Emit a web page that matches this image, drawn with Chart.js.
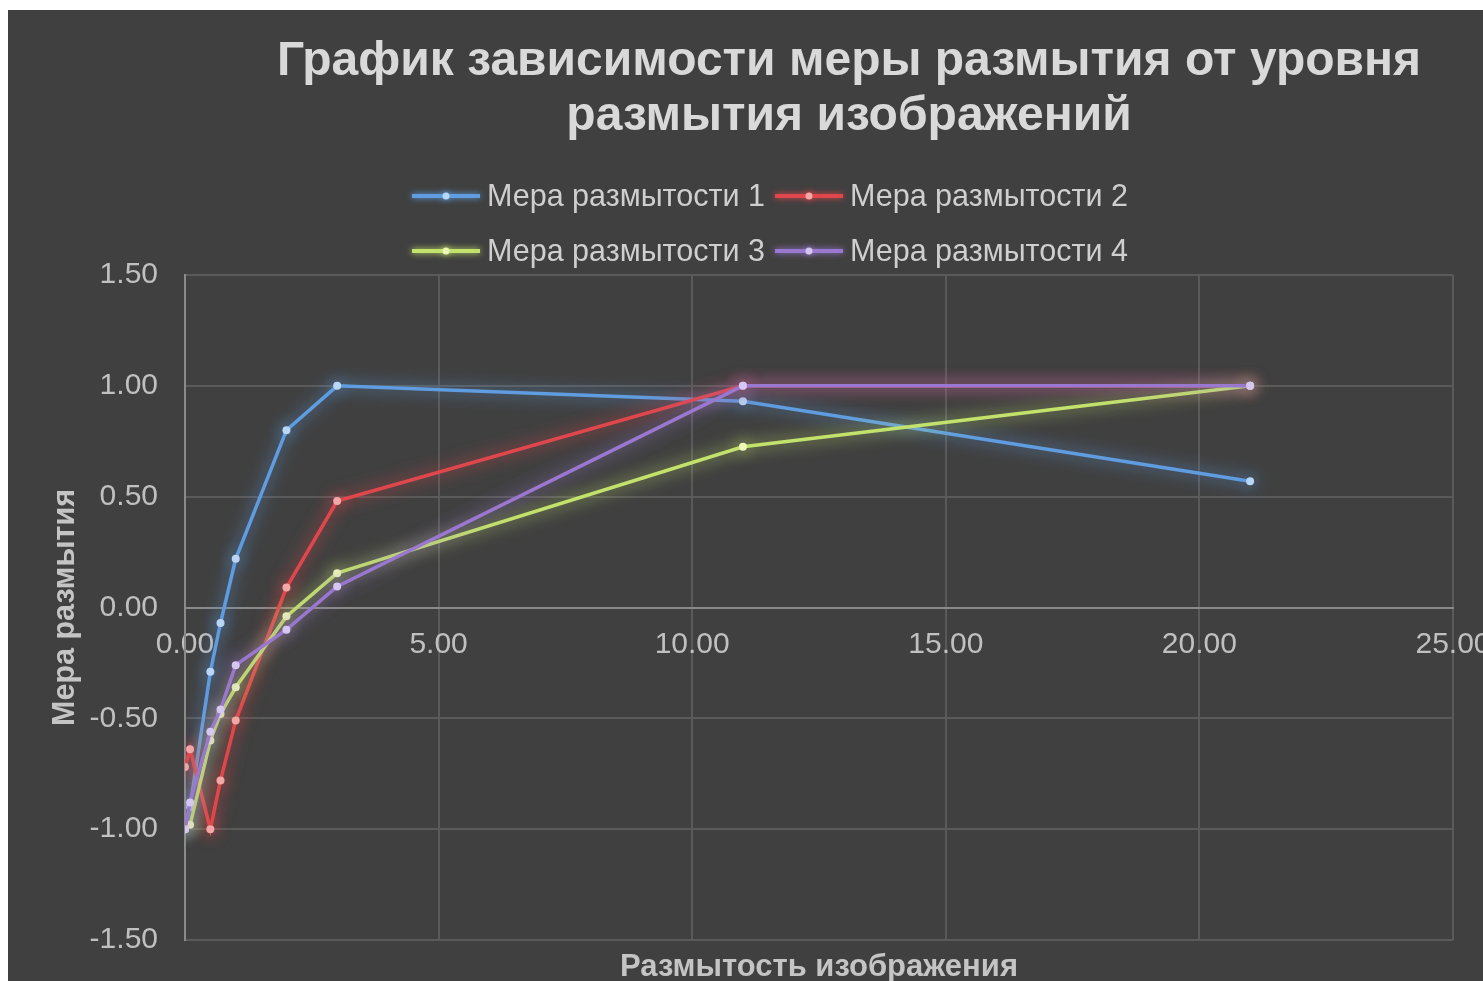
<!DOCTYPE html>
<html><head><meta charset="utf-8">
<script src="https://cdn.jsdelivr.net/npm/chart.js@4/dist/chart.umd.min.js"></script>
<style>
html,body{margin:0;padding:0;background:#ffffff;overflow:hidden;width:1483px;height:981px;}
#wrap{position:absolute;left:8px;top:10px;width:1475px;height:971px;background:#404040;}
canvas{display:block;}
</style></head><body>
<div id="wrap"><canvas id="c" width="1475" height="971"></canvas></div>
<script>
// ---- data ----
const titleLines = ["График зависимости меры размытия от уровня", "размытия изображений"];
const xAxisTitle = "Размытость изображения";
const yAxisTitle = "Мера размытия";
const seriesNames = ["Мера размытости 1", "Мера размытости 2", "Мера размытости 3", "Мера размытости 4"];
const blurLevels = [0, 0.1, 0.5, 0.7, 1, 2, 3, 11, 21];
const measure1 = [-1.00, -0.90, -0.29, -0.07, 0.22, 0.80, 1.00, 0.93, 0.57];
const measure2 = [-0.72, -0.64, -1.00, -0.78, -0.51, 0.09, 0.48, 1.00, 1.00];
const measure3 = [-1.00, -0.98, -0.60, -0.48, -0.36, -0.04, 0.155, 0.725, 1.00];
const measure4 = [-1.00, -0.88, -0.56, -0.46, -0.26, -0.10, 0.095, 1.00, 1.00];
const xTickValues = [0, 5, 10, 15, 20, 25];
const yTickValues = [-1.5, -1.0, -0.5, 0, 0.5, 1.0, 1.5];

// ---- styles ----
const lineColors = ['#5f9de0', '#e0474c', '#c3e26b', '#9a78d0'];
const pointColors = ['#b8d6f6', '#f5a6a6', '#ecf7b8', '#d6c6f2'];
const FONT = "'Liberation Sans', Arial, sans-serif";

const seriesValues = [measure1, measure2, measure3, measure4];
const datasets = seriesValues.map((vals, i) => ({
  label: seriesNames[i],
  data: blurLevels.map((x, j) => ({x: x, y: vals[j]})),
  borderColor: lineColors[i],
  backgroundColor: pointColors[i],
  pointBackgroundColor: pointColors[i],
  pointBorderWidth: 0,
  pointRadius: 4,
  borderWidth: 3.5,
  tension: 0,
  order: 3 - i
}));

const glowPlugin = {
  id: 'glow',
  beforeDatasetDraw(chart, args) {
    const ctx = chart.ctx;
    ctx.save();
    ctx.shadowColor = args.meta.dataset.options.borderColor;
    ctx.shadowBlur = 16;
  },
  afterDatasetDraw(chart) { chart.ctx.restore(); }
};

const textPlugin = {
  id: 'texts',
  afterDraw(chart) {
    const ctx = chart.ctx;
    const area = chart.chartArea;
    ctx.save();
    // main title
    ctx.fillStyle = '#d9d9d9';
    ctx.font = "bold 48px " + FONT;
    ctx.textAlign = 'center';
    ctx.textBaseline = 'alphabetic';
    ctx.fillText(titleLines[0], 841, 65);
    ctx.fillText(titleLines[1], 841, 120);
    // x axis title
    ctx.fillStyle = '#c4c4c4';
    ctx.font = "bold 31px " + FONT;
    ctx.fillText(xAxisTitle, (area.left + area.right) / 2, 966);
    // legend
    const colX = [404, 767];
    const rowY = [186, 241];
    ctx.font = "30.5px " + FONT;
    ctx.textAlign = 'left';
    ctx.textBaseline = 'middle';
    chart.data.datasets.forEach((ds, i) => {
      const x = colX[i % 2], y = rowY[Math.floor(i / 2)];
      ctx.save();
      ctx.strokeStyle = ds.borderColor;
      ctx.lineWidth = 4;
      ctx.shadowColor = ds.borderColor;
      ctx.shadowBlur = 6;
      ctx.beginPath(); ctx.moveTo(x, y); ctx.lineTo(x + 68, y); ctx.stroke();
      ctx.fillStyle = ds.pointBackgroundColor;
      ctx.beginPath(); ctx.arc(x + 34, y, 3.5, 0, Math.PI * 2); ctx.fill();
      ctx.restore();
      ctx.fillStyle = '#cfcfcf';
      ctx.fillText(ds.label, x + 75, y + 2);
    });
    ctx.restore();
  }
};

new Chart(document.getElementById('c'), {
  type: 'line',
  data: { datasets: datasets },
  plugins: [glowPlugin, textPlugin],
  options: {
    responsive: false,
    animation: false,
    devicePixelRatio: 1,
    layout: { padding: { left: 0, right: 30, top: 265, bottom: 41 } },
    plugins: { legend: { display: false }, title: { display: false }, tooltip: { enabled: false } },
    scales: {
      x: {
        type: 'linear', min: 0, max: 25, position: { y: 0 },
        afterBuildTicks: s => { s.ticks = xTickValues.map(v => ({value: v})); },
        ticks: { callback: v => Number(v).toFixed(2), color: '#c0c0c0', font: { family: FONT, size: 30 }, padding: 19, maxRotation: 0, autoSkip: false },
        grid: { color: '#5a5a5a', lineWidth: 2, drawTicks: false },
        border: { color: '#8a8a8a', width: 2 },
        afterFit: s => { s.height = 0; s.paddingLeft = 0; s.paddingRight = 0; }
      },
      y: {
        type: 'linear', min: -1.5, max: 1.5,
        afterBuildTicks: s => { s.ticks = yTickValues.map(v => ({value: v})); },
        ticks: { callback: v => Number(v).toFixed(2), color: '#c0c0c0', font: { family: FONT, size: 30 }, padding: 27, autoSkip: false },
        grid: { color: '#5a5a5a', lineWidth: 2, drawTicks: false },
        border: { color: '#8a8a8a', width: 2 },
        title: { display: true, text: yAxisTitle, color: '#c4c4c4', font: { family: FONT, size: 30.5, weight: 'bold' }, padding: { top: 39, bottom: 0 } },
        afterFit: s => { s.width = 177; s.paddingTop = 0; s.paddingBottom = 0; }
      }
    }
  }
});
</script>
</body></html>
